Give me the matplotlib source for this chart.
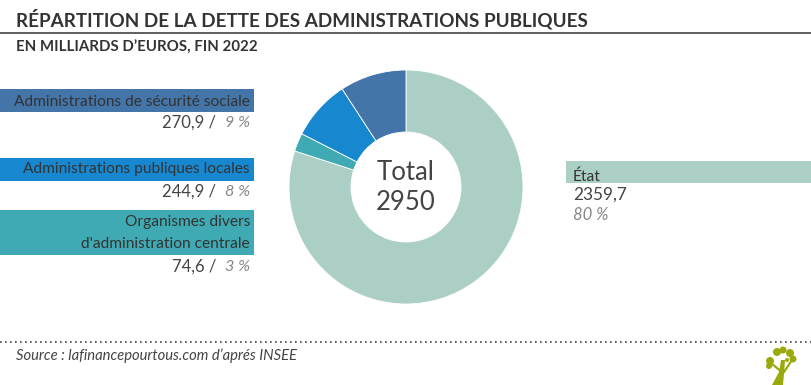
import matplotlib
matplotlib.use('Agg')
import matplotlib.pyplot as plt
from matplotlib.patches import Circle, Polygon, Rectangle

plt.rcParams['font.family'] = ['Lato', 'DejaVu Sans']

W, H = 812, 385
TEXT = '#444444'

labels = ['État', 'Organismes divers\nd\'administration centrale',
          'Administrations publiques locales', 'Administrations de sécurité sociale']
values = [2359.7, 74.6, 244.9, 270.9]
value_labels = ['2359,7', '74,6', '244,9', '270,9']
pct_labels = ['80 %', '3 %', '8 %', '9 %']
colors = ['#abcfc4', '#3faab3', '#1787cf', '#4375a8']
total_label = 'Total\n2950'

fig = plt.figure(figsize=(W / 100, H / 100), dpi=100)

# overlay in pixel coordinates, easier for this kind of layout
ax = fig.add_axes([0, 0, 1, 1])
ax.set_xlim(0, W)
ax.set_ylim(H, 0)
ax.axis('off')

# donut
cx, cy, r = 406, 187, 117
pie_ax = fig.add_axes([(cx - r) / W, 1 - (cy + r) / H, 2 * r / W, 2 * r / H])
pie_ax.pie(values, colors=colors, startangle=90, counterclock=False, radius=1,
           wedgeprops={'width': 1 - 55 / 117, 'edgecolor': 'white', 'linewidth': 0.6})
pie_ax.set_xlim(-1, 1)
pie_ax.set_ylim(-1, 1)
pie_ax.text(0, -0.005, total_label, ha='center', va='center', fontsize=18.5,
            color=TEXT, linespacing=1.25)

# header
ax.text(16, 19.5, 'RÉPARTITION DE LA DETTE DES ADMINISTRATIONS PUBLIQUES', fontsize=13.6,
        color='#333333', va='center', fontweight='bold')
ax.plot([0, W], [33, 33], color='#333333', lw=1.1)
ax.text(16, 48, 'EN MILLIARDS D’EUROS, FIN 2022', fontsize=10.8, color='#333333',
        va='center', fontweight='bold')

# left labels
boxes = {1: (210, 255), 2: (158, 181), 3: (89, 111.5)}
label_y = {1: 233, 2: 169.5, 3: 101.5}
value_y = {1: 267, 2: 192, 3: 123}
for i, (top, bottom) in boxes.items():
    ax.add_patch(Rectangle((0, top), 254, bottom - top, color=colors[i], lw=0))
    ax.text(250, label_y[i], labels[i], ha='right', va='center', fontsize=11.2,
            color='#333333', linespacing=1.75)
    pct = ax.text(250, value_y[i], pct_labels[i], ha='right', va='center', fontsize=11.6,
                  color='#888888', style='italic')
    ax.annotate(value_labels[i] + ' /  ', xy=(0, 0.5), xycoords=pct, ha='right', va='center',
                fontsize=12, color=TEXT)

# right label
ax.add_patch(Rectangle((566, 161), W - 566, 22, color=colors[0], lw=0))
ax.text(573, 177, labels[0], va='center', fontsize=11.2, color='#333333')
ax.text(573, 195, value_labels[0], va='center', fontsize=12.4, color=TEXT)
ax.text(573, 215, pct_labels[0], va='center', fontsize=12, color='#888888', style='italic')

# footer
ax.plot([0, W], [342, 342], color='#444444', lw=1.2, linestyle=(0, (1, 2)))
ax.text(16, 356, 'Source : lafinancepourtous.com d’aprés INSEE', fontsize=10.6, color=TEXT,
        va='center', style='italic')

# tree logo
GREEN = '#9aaa0c'
ax.add_patch(Polygon([(772, 385), (779, 372), (781, 360), (785, 360), (784, 374), (783, 385)],
                     color=GREEN, lw=0))
for x, y, s in [(770, 361, 4), (769, 366, 3), (777, 352, 4), (783, 350, 3.5), (790, 353, 4),
                (793, 359, 3.5), (787, 360, 2)]:
    ax.add_patch(Circle((x, y), s, color=GREEN, lw=0))
ax.plot([772, 782], [364, 372], color=GREEN, lw=1.6)
ax.plot([792, 784], [360, 372], color=GREEN, lw=1.6)

fig.savefig('out.png', dpi=100)
